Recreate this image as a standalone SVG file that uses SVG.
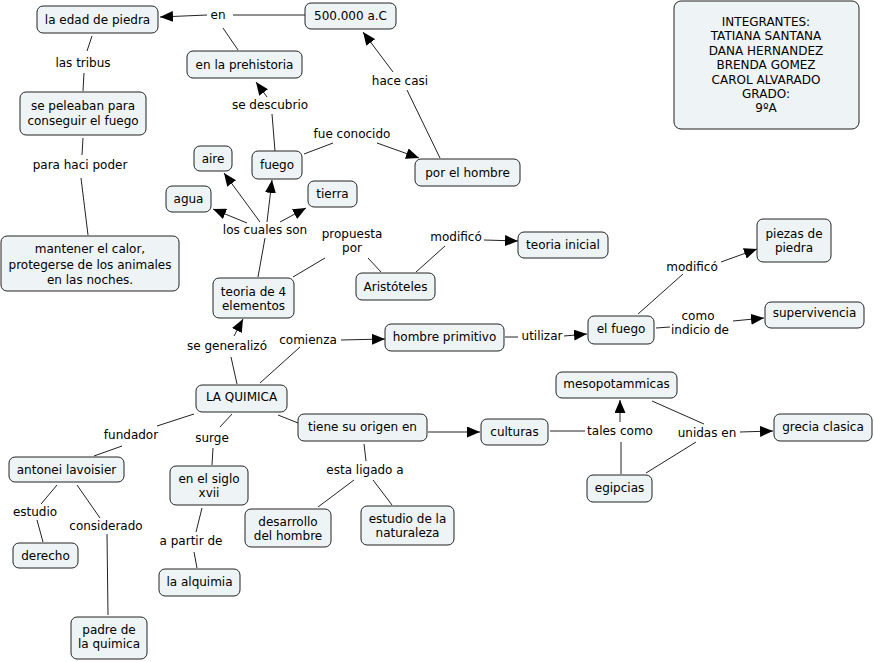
<svg xmlns="http://www.w3.org/2000/svg" width="874" height="662" viewBox="0 0 874 662">
<style>
.n rect{fill:#eef3f5;stroke:#222;stroke-width:1}
text{font-family:"DejaVu Sans",Verdana,sans-serif;font-size:12px;fill:#000;text-anchor:middle}
.c line{stroke:#222;stroke-width:1}
.a{marker-end:url(#ah)}
</style>
<defs>
<marker id="ah" markerUnits="userSpaceOnUse" markerWidth="13" markerHeight="11" refX="13" refY="5.5" orient="auto"><path d="M0,0 L13,5.5 L0,11 z" fill="#000"/></marker>
</defs>
<rect width="874" height="662" fill="#fff"/>
<g class="c" id="connectors">
<line x1="305" y1="15" x2="233" y2="15"/>
<line class="a" x1="207" y1="15" x2="160" y2="17"/>
<line x1="238" y1="50" x2="223" y2="28"/>
<line x1="92" y1="36" x2="87" y2="51"/>
<line x1="84" y1="73" x2="83" y2="91"/>
<line x1="83" y1="138" x2="82" y2="155"/>
<line x1="81" y1="178" x2="88" y2="235"/>
<line x1="440" y1="158" x2="407" y2="90"/>
<line class="a" x1="393" y1="72" x2="363" y2="32"/>
<line x1="275" y1="151" x2="272" y2="114"/>
<line class="a" x1="267" y1="97" x2="256" y2="82"/>
<line x1="304" y1="154" x2="333" y2="143"/>
<line class="a" x1="377" y1="143" x2="419" y2="158"/>
<line x1="258" y1="277" x2="265" y2="238"/>
<line class="a" x1="260" y1="222" x2="224" y2="173"/>
<line class="a" x1="267" y1="222" x2="272" y2="180"/>
<line class="a" x1="247" y1="223" x2="213" y2="209"/>
<line class="a" x1="280" y1="222" x2="306" y2="208"/>
<line x1="293" y1="277" x2="325" y2="258"/>
<line x1="368" y1="258" x2="381" y2="272"/>
<line x1="416" y1="272" x2="445" y2="246"/>
<line class="a" x1="484" y1="240" x2="518" y2="241"/>
<line x1="237" y1="384" x2="231" y2="357"/>
<line class="a" x1="234" y1="336" x2="243" y2="319"/>
<line x1="260" y1="383" x2="300" y2="347"/>
<line class="a" x1="341" y1="340" x2="385" y2="339"/>
<line x1="505" y1="337" x2="518" y2="337"/>
<line class="a" x1="564" y1="336" x2="587" y2="334"/>
<line x1="638" y1="314" x2="683" y2="274"/>
<line class="a" x1="721" y1="262" x2="757" y2="249"/>
<line x1="656" y1="328" x2="670" y2="327"/>
<line class="a" x1="733" y1="321" x2="764" y2="318"/>
<line x1="550" y1="431" x2="585" y2="431"/>
<line class="a" x1="620" y1="422" x2="620" y2="400"/>
<line x1="621" y1="474" x2="621" y2="442"/>
<line x1="652" y1="401" x2="704" y2="424"/>
<line x1="646" y1="473" x2="696" y2="442"/>
<line class="a" x1="740" y1="432" x2="773" y2="431"/>
<line x1="278" y1="415" x2="298" y2="423"/>
<line class="a" x1="428" y1="432" x2="480" y2="432"/>
<line x1="364" y1="444" x2="366" y2="461"/>
<line x1="354" y1="480" x2="318" y2="507"/>
<line x1="373" y1="480" x2="392" y2="505"/>
<line x1="194" y1="414" x2="157" y2="426"/>
<line x1="122" y1="446" x2="94" y2="456"/>
<line x1="232" y1="414" x2="220" y2="427"/>
<line x1="213" y1="448" x2="212" y2="465"/>
<line x1="202" y1="508" x2="196" y2="532"/>
<line x1="194" y1="552" x2="197" y2="568"/>
<line x1="57" y1="485" x2="41" y2="504"/>
<line x1="37" y1="520" x2="43" y2="542"/>
<line x1="77" y1="485" x2="100" y2="518"/>
<line x1="107" y1="534" x2="108" y2="615"/>
</g>
<g id="labels">
<text x="218" y="19">en</text>
<text x="83" y="67">las tribus</text>
<text x="80" y="169">para haci poder</text>
<text x="400" y="85">hace casi</text>
<text x="270" y="109">se descubrio</text>
<text x="352" y="138">fue conocido</text>
<text x="265" y="234">los cuales son</text>
<text x="352" y="238">propuesta</text>
<text x="352" y="252">por</text>
<text x="456" y="241">modificó</text>
<text x="227" y="350">se generalizó</text>
<text x="308" y="344">comienza</text>
<text x="542" y="340">utilizar</text>
<text x="692" y="271">modificó</text>
<text x="698" y="320">como</text>
<text x="700" y="334">indicio de</text>
<text x="620" y="435">tales como</text>
<text x="707" y="437">unidas en</text>
<text x="365" y="474">esta ligado a</text>
<text x="131" y="439">fundador</text>
<text x="212" y="442">surge</text>
<text x="191" y="545">a partir de</text>
<text x="35" y="516">estudio</text>
<text x="106" y="530">considerado</text>
</g>
<g class="n" id="n1"><rect x="37" y="6" width="121" height="27" rx="6"/><text x="97.5" y="24">la edad de piedra</text></g>
<g class="n" id="n2"><rect x="305" y="3" width="91" height="26" rx="6"/><text x="350.5" y="20">500.000 a.C</text></g>
<g class="n" id="n3"><rect x="187" y="51" width="115" height="27" rx="6"/><text x="244.5" y="69">en la prehistoria</text></g>
<g class="n" id="n4"><rect x="20" y="92" width="126" height="43" rx="6"/><text x="83" y="110">se peleaban para</text><text x="83" y="125">conseguir el fuego</text></g>
<g class="n" id="n5"><rect x="194" y="146" width="38" height="25" rx="6"/><text x="213" y="163">aire</text></g>
<g class="n" id="n6"><rect x="252" y="151" width="50" height="28" rx="6"/><text x="277" y="169">fuego</text></g>
<g class="n" id="n7"><rect x="166" y="186" width="45" height="26" rx="6"/><text x="188.5" y="203">agua</text></g>
<g class="n" id="n8"><rect x="308" y="181" width="49" height="26" rx="6"/><text x="332.5" y="198">tierra</text></g>
<g class="n" id="n9"><rect x="415" y="159" width="105" height="27" rx="6"/><text x="467.5" y="177">por el hombre</text></g>
<g class="n" id="n10"><rect x="1" y="236" width="178" height="55" rx="6"/><text x="90" y="253">mantener el calor,</text><text x="90" y="269">protegerse de los animales</text><text x="90" y="284">en las noches.</text></g>
<g class="n" id="n11"><rect x="213" y="278" width="81" height="40" rx="6"/><text x="253.5" y="296">teoria de 4</text><text x="253.5" y="310">elementos</text></g>
<g class="n" id="n12"><rect x="356" y="273" width="79" height="27" rx="6"/><text x="395.5" y="291">Aristóteles</text></g>
<g class="n" id="n13"><rect x="518" y="232" width="90" height="26" rx="6"/><text x="563" y="249">teoria inicial</text></g>
<g class="n" id="n14"><rect x="757" y="219" width="74" height="43" rx="6"/><text x="794" y="238">piezas de</text><text x="794" y="252">piedra</text></g>
<g class="n" id="n15"><rect x="385" y="324" width="119" height="27" rx="6"/><text x="444.5" y="341">hombre primitivo</text></g>
<g class="n" id="n16"><rect x="588" y="316" width="66" height="28" rx="6"/><text x="621" y="333">el fuego</text></g>
<g class="n" id="n17"><rect x="765" y="302" width="99" height="26" rx="6"/><text x="814.5" y="317">supervivencia</text></g>
<g class="n" id="n18"><rect x="556" y="372" width="121" height="26" rx="6"/><text x="616.5" y="388">mesopotammicas</text></g>
<g class="n" id="n19"><rect x="481" y="419" width="67" height="26" rx="6"/><text x="514.5" y="436">culturas</text></g>
<g class="n" id="n20"><rect x="774" y="414" width="98" height="27" rx="6"/><text x="823" y="431">grecia clasica</text></g>
<g class="n" id="n21"><rect x="587" y="475" width="65" height="27" rx="6"/><text x="619.5" y="492">egipcias</text></g>
<g class="n" id="n22"><rect x="196" y="385" width="91" height="27" rx="6"/><text x="241.5" y="401">LA QUIMICA</text></g>
<g class="n" id="n23"><rect x="298" y="414" width="129" height="27" rx="6"/><text x="362.5" y="431">tiene su origen en</text></g>
<g class="n" id="n24"><rect x="9" y="457" width="115" height="25" rx="6"/><text x="66.5" y="474">antonei lavoisier</text></g>
<g class="n" id="n25"><rect x="170" y="466" width="78" height="39" rx="6"/><text x="209" y="483">en el siglo</text><text x="209" y="497">xvii</text></g>
<g class="n" id="n26"><rect x="245" y="509" width="86" height="38" rx="6"/><text x="288" y="526">desarrollo</text><text x="288" y="540">del hombre</text></g>
<g class="n" id="n27"><rect x="361" y="506" width="93" height="39" rx="6"/><text x="407.5" y="523">estudio de la</text><text x="407.5" y="537">naturaleza</text></g>
<g class="n" id="n28"><rect x="13" y="543" width="65" height="25" rx="6"/><text x="45.5" y="560">derecho</text></g>
<g class="n" id="n29"><rect x="159" y="569" width="81" height="27" rx="6"/><text x="199.5" y="586">la alquimia</text></g>
<g class="n" id="n30"><rect x="71" y="617" width="76" height="42" rx="6"/><text x="109" y="634">padre de</text><text x="109" y="648">la quimica</text></g>
<g class="n" id="n31"><rect x="674" y="1" width="185" height="128" rx="7"/><text x="766" y="26">INTEGRANTES:</text><text x="766" y="40.4">TATIANA SANTANA</text><text x="766" y="54.8">DANA HERNANDEZ</text><text x="766" y="69.2">BRENDA GOMEZ</text><text x="766" y="83.6">CAROL ALVARADO</text><text x="766" y="98">GRADO:</text><text x="766" y="112.4">9ºA</text></g>
</svg>
